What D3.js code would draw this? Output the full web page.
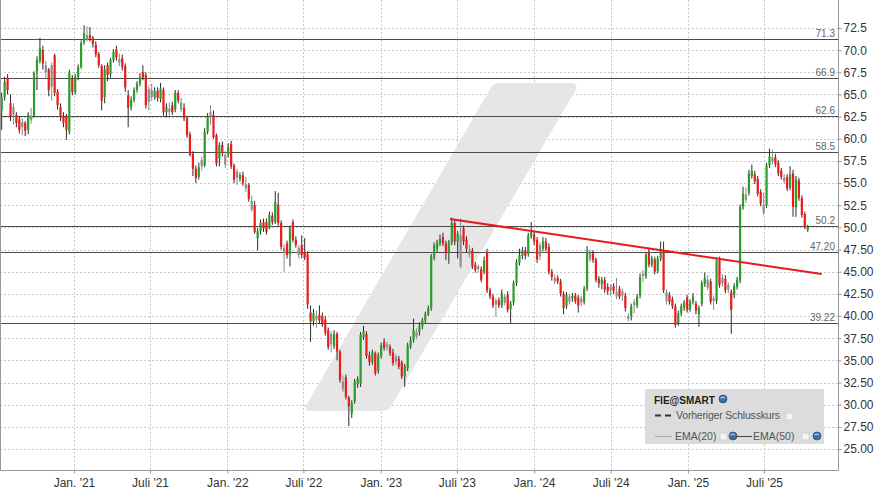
<!DOCTYPE html>
<html><head><meta charset="utf-8">
<script src="https://cdn.jsdelivr.net/npm/d3@7"></script>
<style>body{margin:0;background:#fff;} svg{display:block;font-family:"Liberation Sans",Arial,sans-serif;}</style>
</head><body><svg id="c" width="880" height="496"></svg>
<script>
// ---------- DATA (weekly candles, FIE@SMART) ----------
const firstWeek = "2020-07-13";
const open = [63.2,64.7,66.9,64.0,63.6,62.7,62.2,61.9,61.8,61.0,62.1,62.6,67.6,68.8,70.0,67.5,67.8,68.3,69.4,65.3,63.6,62.6,62.5,60.8,66.8,65.3,67.0,68.1,70.9,71.2,
71.7,71.4,70.6,69.6,68.2,64.7,68.3,67.3,68.9,70.1,68.6,69.1,68.2,64.9,63.6,64.4,65.5,66.2,67.5,67.2,65.6,65.5,64.7,65.4,64.5,65.5,63.0,63.0,63.8,63.3,
65.2,63.3,63.5,62.3,60.5,58.3,56.6,55.7,57.6,57.0,60.8,63.0,62.7,60.4,57.8,59.3,57.1,58.2,59.4,57.0,56.3,55.5,55.9,54.4,54.8,52.0,52.5,48.8,49.6,50.6,
50.6,50.0,51.3,50.6,52.6,50.5,47.1,48.2,47.0,50.6,48.6,46.9,48.0,47.2,47.0,40.4,39.4,39.6,40.1,40.0,39.6,38.4,38.0,36.6,38.0,36.0,31.8,33.1,30.8,29.0,
30.4,32.3,32.4,37.6,38.0,35.6,34.8,35.8,33.8,35.5,37.1,36.8,36.5,35.9,35.4,35.2,34.8,33.2,34.1,36.6,37.3,37.7,38.2,38.9,39.5,40.2,40.9,46.6,47.6,48.2,
48.9,48.2,47.1,48.3,50.5,48.4,45.6,49.9,48.6,47.0,47.4,45.8,45.6,45.3,45.0,47.2,42.9,42.2,41.8,41.8,41.2,41.5,42.4,40.8,41.5,43.7,46.0,46.8,47.4,47.0,
49.0,49.2,48.6,48.0,47.6,48.4,47.8,45.0,43.9,44.3,43.9,42.5,41.1,41.6,42.0,42.3,42.1,42.0,41.6,43.1,46.4,47.1,46.4,44.2,43.6,44.1,43.3,43.3,43.4,42.2,
43.1,42.8,42.3,39.7,40.0,41.6,41.2,42.3,44.8,44.5,47.3,45.8,46.4,45.1,46.5,47.3,41.7,42.4,41.9,41.1,39.2,40.3,40.9,42.1,40.8,41.6,41.4,40.2,41.4,43.6,
43.2,43.9,42.0,41.7,46.3,44.3,44.2,43.5,42.7,42.4,43.3,44.0,52.3,53.1,53.9,55.8,56.0,55.5,54.0,51.7,52.5,57.0,57.4,57.9,57.3,56.4,55.2,55.7,54.5,56.1,
52.3,55.3,53.3,51.5,49.7];
const high = [65.2,67.0,67.3,65.0,64.0,63.0,62.5,62.3,62.0,63.0,63.5,67.6,69.3,71.4,70.5,68.8,68.0,68.6,69.6,65.6,64.0,63.0,62.8,67.8,67.2,67.3,68.4,71.1,72.8,72.7,
72.6,71.6,71.0,69.8,68.4,68.3,68.6,69.1,70.1,70.5,69.6,69.5,68.5,65.5,64.8,65.8,66.5,67.4,68.3,67.5,66.0,66.2,65.8,65.8,66.3,65.8,64.0,64.1,64.2,65.5,
65.5,64.6,64.0,62.6,60.8,58.6,57.0,57.3,58.0,61.2,62.9,63.8,63.2,60.6,59.6,59.7,58.6,59.5,59.8,57.2,56.6,56.2,56.3,55.7,55.0,53.6,53.0,49.9,50.9,51.0,
51.0,51.8,51.7,54.1,53.9,50.8,48.1,48.5,50.2,50.9,49.0,48.0,49.1,48.8,47.3,41.2,40.8,40.6,41.2,40.4,40.0,38.7,38.3,38.4,38.2,36.2,33.3,33.4,31.0,30.5,
32.9,33.2,38.2,38.9,38.3,36.0,36.2,36.0,35.9,37.0,37.5,37.1,36.8,36.3,35.7,35.5,35.0,34.6,37.0,37.7,39.7,38.6,39.3,39.8,40.5,41.2,47.0,48.3,48.6,49.2,
49.4,48.5,48.6,51.1,50.9,49.6,51.0,50.2,49.0,48.0,47.7,46.1,45.8,45.6,46.7,47.6,43.2,42.5,42.0,42.1,43.0,42.5,42.8,41.7,44.0,46.4,47.6,47.8,47.8,49.4,
50.6,49.6,48.9,48.3,48.9,48.8,48.2,45.3,44.7,44.6,44.2,42.8,42.7,42.5,42.6,42.6,42.4,42.3,43.4,47.9,47.5,47.4,46.6,44.5,44.4,44.4,43.7,43.6,43.7,44.3,
43.4,43.1,42.6,40.3,41.4,41.9,42.5,44.8,45.2,47.2,47.7,46.8,46.7,46.8,48.4,48.4,43.0,42.7,42.2,41.4,40.6,41.4,41.8,42.4,41.9,42.6,41.7,41.2,44.0,44.9,
44.6,44.2,42.3,46.6,46.7,44.7,44.6,43.8,43.0,43.7,44.4,52.6,54.6,54.5,56.5,57.1,56.4,55.8,54.3,53.9,57.3,58.9,58.8,58.3,57.6,56.7,56.0,56.0,56.9,56.5,
55.8,55.6,53.6,51.8,50.3];
const low = [61.0,64.3,65.0,62.0,61.6,61.3,60.6,60.4,60.3,60.5,61.7,62.4,65.5,68.5,67.8,66.8,64.8,64.3,64.8,63.3,62.0,61.3,59.9,60.5,64.9,65.0,66.6,67.9,70.6,71.0,
71.0,70.3,69.2,68.0,63.2,64.0,66.5,66.9,68.6,68.8,68.2,67.7,65.3,61.3,63.2,64.1,65.2,65.9,66.6,63.4,63.2,64.3,64.4,64.2,64.1,62.6,62.4,62.6,62.7,63.0,
64.0,63.0,62.0,60.1,58.0,55.8,55.0,55.4,56.4,56.8,60.5,61.6,60.0,56.9,56.9,58.0,56.7,57.9,56.6,55.0,54.8,55.2,54.7,54.0,52.9,51.8,49.3,47.4,49.2,49.5,
49.2,49.8,50.3,50.4,50.2,47.5,45.0,46.5,45.6,48.3,47.7,46.5,46.5,46.3,40.8,37.1,38.9,38.7,39.1,38.8,37.8,36.2,35.9,36.3,35.0,32.5,31.4,30.6,27.6,28.5,
30.1,31.9,32.0,37.3,35.2,34.4,34.5,33.3,33.5,35.2,36.1,36.1,35.5,34.4,34.5,34.0,32.9,32.0,33.8,36.3,37.0,37.4,37.8,38.5,39.2,40.0,40.6,46.3,47.2,47.9,
47.9,46.3,45.9,48.0,48.0,46.5,45.4,48.0,47.2,46.6,45.3,44.9,44.9,43.8,44.7,42.6,41.9,40.9,39.9,40.9,40.9,41.2,40.4,39.2,41.2,43.4,45.7,46.4,46.4,46.7,
48.7,48.0,46.0,46.3,47.3,47.3,44.7,44.0,43.6,43.6,42.2,40.2,40.8,41.3,41.6,41.4,40.4,41.1,41.3,42.8,46.1,46.0,43.8,43.2,43.0,42.6,42.4,42.3,42.5,41.9,
41.9,41.7,40.5,39.4,39.5,40.3,40.9,42.0,43.8,44.2,45.5,45.5,44.7,44.8,46.2,42.6,41.3,41.3,40.8,38.7,38.9,40.0,40.6,40.4,40.5,41.3,40.2,38.8,41.1,43.3,
42.9,41.3,40.7,41.4,43.2,43.3,42.6,42.6,38.0,42.0,43.0,43.7,52.0,52.8,53.6,55.5,54.9,53.5,52.4,51.4,52.2,56.7,57.1,56.8,55.8,55.4,54.9,54.1,54.2,51.2,
51.2,53.0,51.1,49.8,49.5];
const close = [64.7,66.4,65.5,62.5,62.7,61.8,61.0,61.3,60.9,62.7,62.6,67.4,68.9,70.2,68.5,68.3,65.5,65.9,65.2,63.8,62.5,61.8,61.0,67.5,65.3,67.0,68.1,70.8,71.9,71.7,
71.3,70.7,69.5,68.3,64.3,67.8,67.2,68.9,69.8,69.2,69.0,68.1,65.8,63.5,64.4,65.5,66.2,67.0,66.9,63.8,64.2,64.7,65.4,64.6,65.7,63.0,63.6,63.4,63.0,65.2,
64.3,64.1,62.3,60.4,58.2,56.6,55.6,56.8,56.9,60.8,62.5,62.6,60.2,57.2,59.3,58.4,58.2,59.1,56.9,55.4,55.6,55.9,55.0,54.9,53.2,53.0,49.5,49.6,50.5,49.9,
49.5,51.4,50.6,52.9,50.5,47.8,47.7,46.9,49.9,48.6,48.0,47.7,46.9,46.6,41.3,39.4,40.3,40.0,39.5,39.2,38.1,36.5,36.8,38.0,36.0,32.8,32.6,30.9,29.8,30.2,
32.6,32.9,37.9,38.3,35.5,34.8,35.9,33.6,35.6,36.7,36.4,36.5,35.8,34.7,34.9,34.3,33.2,34.3,36.7,37.3,38.4,38.2,38.9,39.5,40.2,40.9,46.7,48.0,48.3,48.7,
48.2,47.1,48.3,50.5,48.4,49.3,49.1,48.4,47.6,47.5,45.6,45.2,45.3,44.1,46.3,42.9,42.2,41.2,41.3,41.2,42.6,42.2,40.7,41.4,43.7,46.1,46.9,47.4,46.8,49.1,
49.6,48.4,46.4,46.8,48.4,47.6,45.0,44.4,44.3,43.9,42.5,40.9,42.4,42.2,42.3,41.7,41.2,41.5,43.1,47.3,47.1,46.3,44.1,43.7,44.1,43.0,42.8,42.9,42.8,42.7,
42.2,42.3,40.9,40.0,41.1,41.2,42.2,44.4,44.5,46.9,45.8,46.5,45.0,46.5,47.5,42.9,42.7,41.6,41.1,39.0,40.3,41.1,41.5,40.7,41.6,42.2,40.6,40.9,43.7,44.3,
44.1,41.6,41.7,46.3,43.5,43.7,42.9,43.0,40.7,43.4,44.1,52.3,53.8,53.7,56.1,56.4,55.2,53.8,52.7,52.5,57.0,58.0,57.9,57.1,56.1,55.7,55.6,54.4,56.0,52.3,
55.4,53.3,51.4,50.0,50.1];

const yTicks = [72.5,70,67.5,65,62.5,60,57.5,55,52.5,50,47.5,45,42.5,40,37.5,35,32.5,30,27.5,25];
const yTickLabels = ["72.5","70.0","67.5","65.0","62.5","60.0","57.5","55.0","52.5","50.0","47.50","45.00","42.50","40.00","37.50","35.00","32.50","30.00","27.50","25.00"];
const xTickDates = ["2021-01-01","2021-07-01","2022-01-01","2022-07-01","2023-01-01","2023-07-01","2024-01-01","2024-07-01","2025-01-01","2025-07-01"];
const xTickLabels = ["Jan. '21","Juli '21","Jan. '22","Juli '22","Jan. '23","Juli '23","Jan. '24","Juli '24","Jan. '25","Juli '25"];
const levelValues = [71.3,66.9,62.6,58.5,50.2,47.20,39.22];
const levelLabels = ["71.3","66.9","62.6","58.5","50.2","47.20","39.22"];
const trendDates = ["2023-06-15","2025-11-15"];
const trendValues = [50.95,44.74];

// ---------- CHART ----------
const W = 838, H = 470;
const svg = d3.select("#c");
const parse = d3.utcParse("%Y-%m-%d");
const dates = close.map((_, i) => d3.utcWeek.offset(parse(firstWeek), i));

const x = d3.scaleUtc().domain([parse("2020-07-09"), parse("2025-12-24")]).range([0, W]);
const y = d3.scaleLinear().domain([22.63, 75.66]).range([H, 0]);

svg.append("rect").attr("width", 880).attr("height", 496).attr("fill", "#fff");

const g = svg.append("g");

// grid
g.selectAll(".hg").data(yTicks).join("line")
  .attr("x1", 0).attr("x2", W).attr("y1", d => Math.round(y(d)) + 0.5).attr("y2", d => Math.round(y(d)) + 0.5)
  .attr("stroke", "#c8c8c8").attr("stroke-dasharray", "2,2");
g.selectAll(".vg").data(xTickDates).join("line")
  .attr("y1", 0).attr("y2", H).attr("x1", d => Math.round(x(parse(d))) + 0.5).attr("x2", d => Math.round(x(parse(d))) + 0.5)
  .attr("stroke", "#c8c8c8").attr("stroke-dasharray", "2,2");

// watermark
g.append("path")
  .attr("d", "M311,411 L382,411 Q389,411 392,405 L575,91 Q579,83 571,83 L499,83 Q493,83 490,89 L307,404 Q303,411 311,411 Z")
  .attr("fill", "#e6e6e6");

// level lines
g.selectAll(".lv").data(levelValues).join("line")
  .attr("x1", 0).attr("x2", W).attr("y1", d => Math.round(y(d)) + 0.5).attr("y2", d => Math.round(y(d)) + 0.5)
  .attr("stroke", "#4a4a4a").attr("stroke-width", 1);
g.selectAll(".lvt").data(levelValues).join("text")
  .attr("x", W - 3).attr("y", d => Math.round(y(d)) - 2)
  .attr("text-anchor", "end").attr("font-size", 10).attr("fill", "#666")
  .text((d, i) => levelLabels[i]);

// candles
const colorOf = i => {
  const prev = i > 0 ? close[i - 1] : open[i];
  if (close[i] > open[i] && close[i] >= prev) return "#2a9d2a";
  if (close[i] < open[i] && close[i] <= prev) return "#ee1b1b";
  return "#8e8e8e";
};
const cg = g.append("g");
cg.selectAll(".wick").data(close).join("line")
  .attr("x1", (d, i) => x(dates[i])).attr("x2", (d, i) => x(dates[i]))
  .attr("y1", (d, i) => y(high[i])).attr("y2", (d, i) => y(low[i]))
  .attr("stroke", (d, i) => colorOf(i) === "#8e8e8e" ? "#8a8a8a" : "#2b2b2b").attr("stroke-width", 1);
cg.selectAll(".body").data(close).join("rect")
  .attr("x", (d, i) => x(dates[i]) - 1.1).attr("width", 2.2)
  .attr("y", (d, i) => y(Math.max(open[i], close[i])))
  .attr("height", (d, i) => Math.max(1, Math.abs(y(open[i]) - y(close[i]))))
  .attr("fill", (d, i) => colorOf(i));

// trend line
g.append("line")
  .attr("x1", x(parse(trendDates[0]))).attr("y1", y(trendValues[0]))
  .attr("x2", x(parse(trendDates[1]))).attr("y2", y(trendValues[1]))
  .attr("stroke", "#e8191f").attr("stroke-width", 2);

// frame
g.append("path").attr("d", `M0.5,0 V${H + 0.5} H${W + 0.5} V0`).attr("fill", "none").attr("stroke", "#999");

// y axis
const ya = g.append("g").attr("transform", `translate(${W + 0.5},0)`)
  .call(d3.axisRight(y).tickValues(yTicks).tickSize(3).tickPadding(2).tickFormat((d, i) => yTickLabels[i]));
ya.select(".domain").remove();
ya.selectAll("line").attr("stroke", "#999");
ya.selectAll("text").attr("font-size", 12).attr("fill", "#333").attr("font-family", "Liberation Sans, Arial, sans-serif");

// x axis
const xa = g.append("g").attr("transform", `translate(0,${H + 0.5})`)
  .call(d3.axisBottom(x).tickValues(xTickDates.map(parse)).tickSize(3).tickPadding(5).tickFormat((d, i) => xTickLabels[i]));
xa.select(".domain").remove();
xa.selectAll("line").attr("stroke", "#999");
xa.selectAll("text").attr("font-size", 12).attr("fill", "#333").attr("font-family", "Liberation Sans, Arial, sans-serif");

// legend
const lg = svg.append("g");
lg.append("rect").attr("x", 645).attr("y", 389).attr("width", 179).attr("height", 55).attr("fill", "#dcdcdc");
lg.append("text").attr("x", 654).attr("y", 404).attr("font-size", 10).attr("font-weight", "bold").attr("fill", "#222").text("FIE@SMART");
function globe(cx, cy) {
  lg.append("circle").attr("cx", cx).attr("cy", cy).attr("r", 4).attr("fill", "#3d6fa6").attr("stroke", "#2b5282").attr("stroke-width", 0.8);
  lg.append("path").attr("d", `M${cx - 2.5},${cy - 1} Q${cx},${cy - 3} ${cx + 2},${cy - 1}`).attr("stroke", "#d8e6f4").attr("stroke-width", 1).attr("fill", "none");
}
function box(bx, by) {
  lg.append("rect").attr("x", bx).attr("y", by).attr("width", 7).attr("height", 7).attr("fill", "#f4f4f4").attr("stroke", "#cfcfcf").attr("stroke-width", 0.8);
}
globe(723, 399);
lg.append("line").attr("x1", 655).attr("x2", 672).attr("y1", 415.5).attr("y2", 415.5).attr("stroke", "#333").attr("stroke-width", 2).attr("stroke-dasharray", "6,4");
lg.append("text").attr("x", 676).attr("y", 419).attr("font-size", 10.5).attr("textLength", 104).attr("fill", "#555").text("Vorheriger Schlusskurs");
box(786, 413);
lg.append("line").attr("x1", 655).attr("x2", 672).attr("y1", 436.5).attr("y2", 436.5).attr("stroke", "#aaa").attr("stroke-width", 1);
lg.append("text").attr("x", 675).attr("y", 440).attr("font-size", 10.5).attr("fill", "#555").text("EMA(20)");
box(720, 433);
globe(733, 436);
lg.append("line").attr("x1", 736).attr("x2", 752).attr("y1", 436.5).attr("y2", 436.5).attr("stroke", "#444").attr("stroke-width", 1);
lg.append("text").attr("x", 753).attr("y", 440).attr("font-size", 10.5).attr("fill", "#555").text("EMA(50)");
box(802, 433);
globe(817, 436);
</script></body></html>
